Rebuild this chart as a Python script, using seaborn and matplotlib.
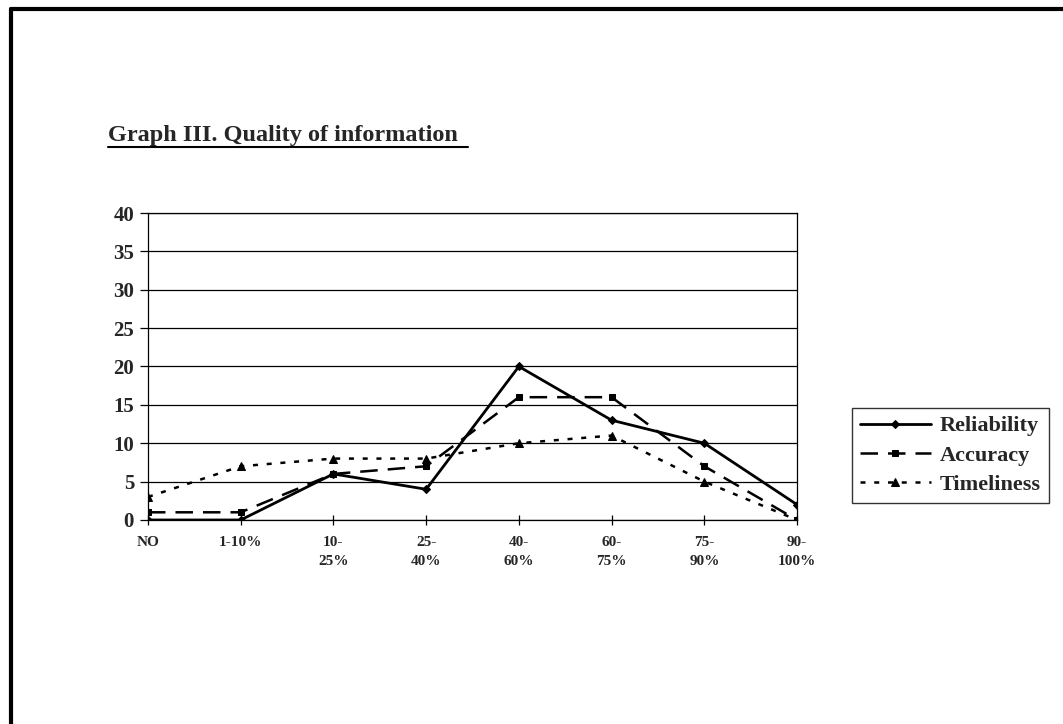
import matplotlib
matplotlib.use("Agg")
import matplotlib.pyplot as plt
from matplotlib.lines import Line2D
import seaborn as sns

# categories on the x axis
categories = ["NO", "1-10%", "10-\n25%", "25-\n40%", "40-\n60%", "60-\n75%", "75-\n90%", "90-\n100%"]
# series values
reliability = [0, 0, 6, 4, 20, 13, 10, 2]
accuracy = [1, 1, 6, 7, 16, 16, 7, 0]
timeliness = [3, 7, 8, 8, 10, 11, 5, 0]
y_ticks = [0, 5, 10, 15, 20, 25, 30, 35, 40]

sns.set_style("white")
plt.rcParams['font.family'] = ['Liberation Serif', 'DejaVu Serif']
plt.rcParams['font.weight'] = 'bold'

fig = plt.figure(figsize=(10.63, 7.24), dpi=100)
ax = fig.add_axes([0.1392, 0.2818, 0.6106, 0.424])

xs = list(range(len(categories)))
sns.lineplot(x=xs, y=reliability, ax=ax, color="black", linewidth=2.0,
             marker="D", markersize=4.5, markeredgecolor="black", label="Reliability")
sns.lineplot(x=xs, y=accuracy, ax=ax, color="black", linewidth=1.8,
             marker="s", markersize=5, markeredgecolor="black", label="Accuracy",
             dashes=False)
sns.lineplot(x=xs, y=timeliness, ax=ax, color="black", linewidth=1.8,
             marker="^", markersize=6, markeredgecolor="black", label="Timeliness",
             dashes=False)
ax.lines[1].set_linestyle((0, (7, 4)))
ax.lines[2].set_linestyle((0, (2, 3.5)))

ax.set_xlim(0, 7)
ax.set_ylim(0, 40)
ax.set_yticks(y_ticks)
ax.set_yticklabels([str(v) for v in y_ticks], fontsize=15, fontweight='bold')
ax.set_xticks(xs)
ax.set_xticklabels(categories, fontsize=11, fontweight='bold', linespacing=1.65)
ax.grid(axis='y', color='black', linewidth=0.9)
ax.set_axisbelow(True)
for s in ax.spines.values():
    s.set_color('black')
    s.set_linewidth(0.9)
ax.tick_params(axis='y', length=6, width=0.9, direction='out', color='black', pad=4, left=True)
ax.tick_params(axis='x', length=7, width=0.9, direction='inout', color='black', pad=8, bottom=True)
ax.set_xlabel("")
ax.set_ylabel("")

ax.get_legend().remove()
handles, labels = ax.get_legend_handles_labels()
leg = fig.legend(handles, labels, loc='upper left', bbox_to_anchor=(0.8015, 0.4365),
                 borderaxespad=0, frameon=True, fancybox=False, shadow=False,
                 handlelength=3.2, handletextpad=0.4, labelspacing=0.4, borderpad=0.35,
                 prop={'family': 'Liberation Serif', 'weight': 'bold', 'size': 16})
leg.get_frame().set_edgecolor('black')
leg.get_frame().set_linewidth(1.0)

# title with underline
fig.text(108 / 1063, 1 - 141 / 724, "Graph III. Quality of information",
         fontsize=17.5, fontweight='bold', ha='left', va='baseline')
fig.lines.append(Line2D([108 / 1063, 468 / 1063], [1 - 147 / 724, 1 - 147 / 724],
                        transform=fig.transFigure, color='black', linewidth=1.5))

# page frame (left and top edges)
fig.lines.append(Line2D([11 / 1063, 11 / 1063], [0, 1 - 9 / 724],
                        transform=fig.transFigure, color='black', linewidth=3))
fig.lines.append(Line2D([11 / 1063, 1], [1 - 9 / 724, 1 - 9 / 724],
                        transform=fig.transFigure, color='black', linewidth=3))

fig.savefig("out.png", dpi=100, facecolor='white')
